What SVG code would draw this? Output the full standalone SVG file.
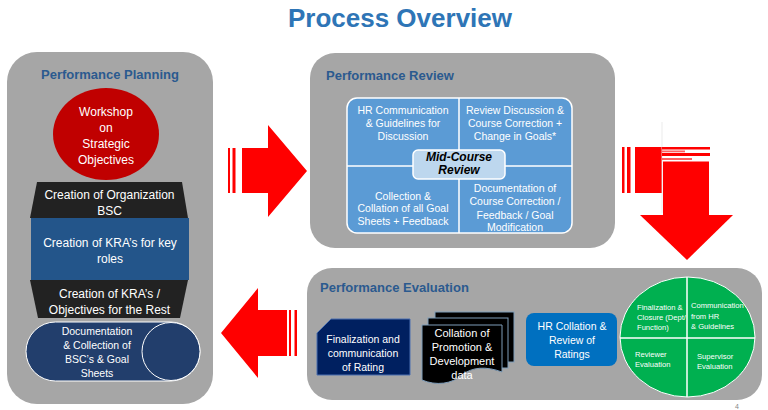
<svg xmlns="http://www.w3.org/2000/svg" width="768" height="410" viewBox="0 0 768 410">
<style>
text{font-family:"Liberation Sans",Arial,sans-serif;}
.panel{fill:#A6A6A6;}
.ptitle{font-size:13px;font-weight:bold;fill:#2B5A8F;}
.w12{font-size:12px;fill:#fff;text-anchor:middle;}
.w105{font-size:10.5px;fill:#fff;text-anchor:middle;}
.w8{font-size:7.6px;fill:#fff;}
.arrow{fill:#FF0000;}
</style>
<defs>
<clipPath id="gclip"><ellipse cx="687.5" cy="337" rx="67.5" ry="60"/></clipPath>
</defs>
<rect width="768" height="410" fill="#fff"/>
<text x="400" y="27" text-anchor="middle" style="font-size:26px;font-weight:bold;fill:#2E75B6">Process Overview</text>

<g id="panel-planning">
<rect class="panel" x="7" y="52" width="206" height="352" rx="30"/>
<text class="ptitle" x="110" y="79" text-anchor="middle">Performance Planning</text>
</g>
<g id="node-workshop">
<ellipse cx="106" cy="134" rx="53" ry="46" fill="#C00000"/>
<text class="w12" x="106" y="116">Workshop</text>
<text class="w12" x="106" y="132">on</text>
<text class="w12" x="106" y="148">Strategic</text>
<text class="w12" x="106" y="164">Objectives</text>
</g>
<g id="node-org-bsc">
<polygon points="37,182 182,182 188,218 30,218" fill="#222"/>
<text class="w12" x="109.5" y="198.5">Creation of Organization</text>
<text class="w12" x="109.5" y="214.5">BSC</text>
</g>
<g id="node-kra-key">
<rect x="31" y="218" width="158" height="62" fill="#23558A"/>
<text class="w12" x="110" y="247">Creation of KRA’s for key</text>
<text class="w12" x="110" y="263">roles</text>
</g>
<g id="node-kra-rest">
<polygon points="30,280 188,280 180,318 38,318" fill="#222"/>
<text class="w12" x="109.5" y="298">Creation of KRA’s /</text>
<text class="w12" x="109.5" y="314">Objectives for the Rest</text>
</g>
<g id="node-documentation">
<rect x="26" y="322" width="174" height="59" rx="29.5" fill="#223E6C" stroke="#fff" stroke-width="1"/>
<circle cx="171" cy="351.5" r="29" fill="#223E6C" stroke="#fff" stroke-width="1"/>
<text class="w105" x="97" y="334.5">Documentation</text>
<text class="w105" x="97" y="348.8">&amp; Collection  of</text>
<text class="w105" x="97" y="362.8">BSC’s &amp; Goal</text>
<text class="w105" x="97" y="376.5">Sheets</text>
</g>

<g id="panel-review">
<rect class="panel" x="310" y="53" width="305" height="195" rx="25"/>
<text class="ptitle" x="326" y="80">Performance Review</text>
</g>
<g id="node-review-matrix">
<rect x="347" y="98" width="225" height="135" rx="10" fill="#5B9BD5" stroke="#fff" stroke-width="1.5"/>
<line x1="459" y1="98" x2="459" y2="233" stroke="#fff" stroke-width="1.5"/>
<line x1="347" y1="166" x2="572" y2="166" stroke="#fff" stroke-width="1.5"/>
<text class="w105" x="403" y="113.7">HR Communication</text>
<text class="w105" x="403" y="126.7">&amp; Guidelines for</text>
<text class="w105" x="403" y="139.7">Discussion</text>
<text class="w105" x="515" y="113.7">Review Discussion &amp;</text>
<text class="w105" x="515" y="126.7">Course Correction +</text>
<text class="w105" x="515" y="139.7">Change in Goals*</text>
<text class="w105" x="403" y="199.7">Collection &amp;</text>
<text class="w105" x="403" y="211.7">Collation of all Goal</text>
<text class="w105" x="403" y="224.7">Sheets + Feedback</text>
<text class="w105" x="515" y="191.7">Documentation of</text>
<text class="w105" x="515" y="204.7">Course Correction /</text>
<text class="w105" x="515" y="218.7">Feedback / Goal</text>
<text class="w105" x="515" y="230.7">Modification</text>
</g>
<g id="node-mid-course">
<rect x="413" y="150" width="92" height="29" rx="5" fill="#BDD7EE" stroke="#fff" stroke-width="1.5"/>
<text x="459" y="161" text-anchor="middle" style="font-size:12px;font-weight:bold;font-style:italic;fill:#000">Mid-Course</text>
<text x="459" y="174" text-anchor="middle" style="font-size:12px;font-weight:bold;font-style:italic;fill:#000">Review</text>
</g>

<g id="panel-evaluation">
<rect class="panel" x="307" y="268" width="455" height="132" rx="25"/>
<text class="ptitle" x="320" y="292">Performance Evaluation</text>
</g>
<g id="node-finalization">
<path d="M331,319 H410 V375 H317 V333 Z" fill="#002060" stroke="#4A6FB0" stroke-width="1"/>
<text class="w105" x="363" y="343">Finalization and</text>
<text class="w105" x="363" y="357">communication</text>
<text class="w105" x="363" y="371">of Rating</text>
</g>
<g id="node-collation">
<rect x="435" y="312" width="79" height="50" fill="#000" stroke="#7F9DB9" stroke-width="1"/>
<rect x="428" y="318" width="80" height="50" fill="#000" stroke="#7F9DB9" stroke-width="1"/>
<path d="M422,325 H502 V372 C486,366 472,367 462,375 C452,384 436,386 422,380 Z" fill="#000" stroke="#7F9DB9" stroke-width="1"/>
<text class="w105" x="462" y="337" style="font-size:11px">Collation of</text>
<text class="w105" x="462" y="351" style="font-size:11px">Promotion &amp;</text>
<text class="w105" x="462" y="365" style="font-size:11px">Development</text>
<text class="w105" x="462" y="379" style="font-size:11px">data</text>
</g>
<g id="node-hr-collation">
<rect x="526" y="313" width="91" height="53" rx="8" fill="#0070C0"/>
<text class="w105" x="572" y="330">HR Collation &amp;</text>
<text class="w105" x="572" y="344">Review of</text>
<text class="w105" x="572" y="358">Ratings</text>
</g>
<g id="node-cycle">
<ellipse cx="687.5" cy="337" rx="67.5" ry="60" fill="#00B050" stroke="#fff" stroke-width="1"/>
<line x1="687" y1="277" x2="687" y2="397" stroke="#fff" stroke-width="1.5"/>
<line x1="620" y1="338" x2="755" y2="338" stroke="#fff" stroke-width="1.5"/>
<g clip-path="url(#gclip)">
<text class="w8" x="637" y="310">Finalization &amp;</text>
<text class="w8" x="637" y="320">Closure (Dept/</text>
<text class="w8" x="637" y="330">Function)</text>
<text class="w8" x="691" y="308">Communication</text>
<text class="w8" x="691" y="318.5">from HR</text>
<text class="w8" x="691" y="329">&amp; Guidelines</text>
<text class="w8" x="635" y="357">Reviewer</text>
<text class="w8" x="635" y="367">Evaluation</text>
<text class="w8" x="697" y="359">Supervisor</text>
<text class="w8" x="697" y="369">Evaluation</text>
</g>
</g>

<g id="connectors">
<g id="arrow-planning-review">
<rect class="arrow" x="228" y="148" width="2" height="45"/>
<rect class="arrow" x="232.5" y="148" width="3" height="45"/>
<polygon class="arrow" points="242,148 268,148 268,125 307,171 268,217 268,193 242,193"/>
</g>
<g id="arrow-review-evaluation">
<rect class="arrow" x="622" y="147" width="2.5" height="46"/>
<rect class="arrow" x="627" y="147" width="3.5" height="46"/>
<rect class="arrow" x="635" y="147" width="27" height="46"/>
<line x1="662" y1="122" x2="662" y2="213" stroke="#E6E6E6" stroke-width="0.8"/>
<rect class="arrow" x="662" y="147" width="48" height="2.5"/>
<rect x="662" y="150.5" width="23" height="1.8" fill="#FF6060"/>
<rect class="arrow" x="662" y="153" width="48" height="3"/>
<rect x="662" y="158" width="30" height="2" fill="#FF6060"/>
<rect class="arrow" x="663" y="161.5" width="46" height="54"/>
<polygon class="arrow" points="640,215 733,215 687,260"/>
</g>
<g id="arrow-evaluation-planning">
<rect class="arrow" x="289" y="310" width="2" height="46"/>
<rect class="arrow" x="294.5" y="310" width="2.5" height="46"/>
<polygon class="arrow" points="287,310 258,310 258,288 221,333 258,378 258,356 287,356"/>
</g>
</g>
<text x="735" y="409" style="font-size:7px;fill:#888">4</text>
</svg>
